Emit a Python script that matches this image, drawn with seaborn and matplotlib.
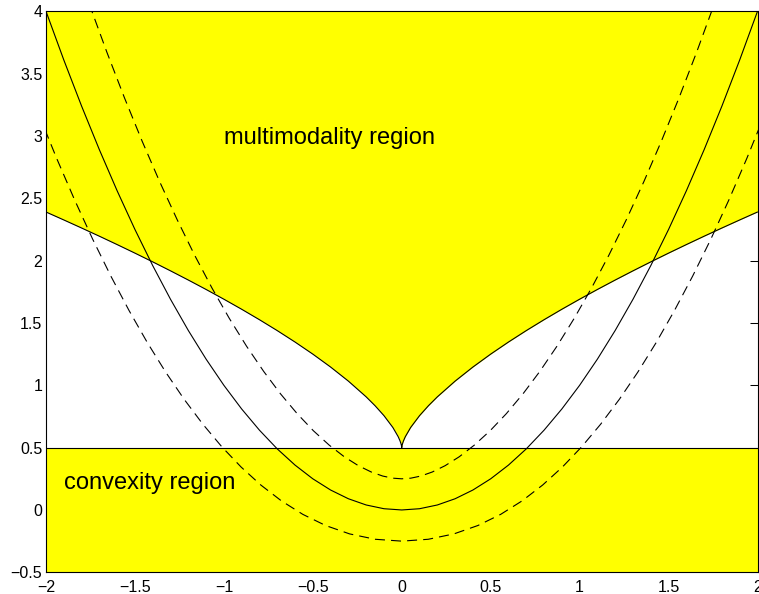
import numpy as np
import pandas as pd
import matplotlib
matplotlib.use("Agg")
import matplotlib.pyplot as plt
import seaborn as sns

# ---- data (right half, x >= 0; the chart is symmetric) ----
# solid curve
parab_x = [0.0, 0.1, 0.2, 0.3, 0.4, 0.5, 0.6, 0.7, 0.8, 0.9, 1.0,
           1.1, 1.2, 1.3, 1.4, 1.5, 1.6, 1.7, 1.8, 1.9, 2.0]
parab_y = [0.0, 0.01, 0.04, 0.09, 0.16, 0.25, 0.36, 0.49, 0.64, 0.81, 1.0,
           1.21, 1.44, 1.69, 1.96, 2.25, 2.56, 2.89, 3.24, 3.61, 4.0]

# boundary of the multimodality region (cusp at x = 0)
bound_x = [0.0, 0.002, 0.005, 0.01, 0.02, 0.05, 0.1, 0.15, 0.2, 0.3, 0.4, 0.5,
           0.6, 0.7, 0.8, 0.9, 1.0, 1.1, 1.2, 1.3, 1.4, 1.5, 1.6, 1.7, 1.8,
           1.9, 2.0]
bound_y = [0.5, 0.5189, 0.5348, 0.5552, 0.5877, 0.6616, 0.7565, 0.8361, 0.9072,
           1.0335, 1.1464, 1.2501, 1.3470, 1.4387, 1.5261, 1.6099, 1.6906,
           1.7687, 1.8444, 1.9181, 1.9900, 2.0602, 2.1287, 2.1959, 2.2617,
           2.3264, 2.3900]

# upper dashed curve
upper_x = [0.0, 0.0510, 0.1071, 0.1714, 0.2438, 0.3232, 0.4079, 0.4966, 0.5880,
           0.6815, 0.7764, 0.8724, 0.9692, 1.0667, 1.1646, 1.2628, 1.3614,
           1.4602, 1.5591, 1.6582, 1.7575]
upper_y = [0.25, 0.2551, 0.2721, 0.3044, 0.3552, 0.4268, 0.5201, 0.6353, 0.7725,
           0.9314, 1.1118, 1.3134, 1.5362, 1.7797, 2.0441, 2.3291, 2.6346,
           2.9605, 3.3069, 3.6736, 4.0606]

# lower dashed curve
lower_x = [0.0, 0.1490, 0.2929, 0.4286, 0.5562, 0.6768, 0.7921, 0.9034, 1.0120,
           1.1185, 1.2236, 1.3276, 1.4308, 1.5333, 1.6354, 1.7372, 1.8386,
           1.9398, 2.0409]
lower_y = [-0.25, -0.2351, -0.1921, -0.1244, -0.0352, 0.0732, 0.1999, 0.3447,
           0.5075, 0.6886, 0.8882, 1.1066, 1.3438, 1.6003, 1.8759, 2.1709,
           2.4854, 2.8195, 3.1731]

convex_top = 0.5
x_range = [-2.0, 2.0]
y_range = [-0.5, 4.0]

x_ticks = [-2, -1.5, -1, -0.5, 0, 0.5, 1, 1.5, 2]
x_labels = ["\u22122", "\u22121.5", "\u22121", "\u22120.5", "0", "0.5", "1", "1.5", "2"]
y_ticks = [-0.5, 0, 0.5, 1, 1.5, 2, 2.5, 3, 3.5, 4]
y_labels = ["\u22120.5", "0", "0.5", "1", "1.5", "2", "2.5", "3", "3.5", "4"]

label_multi = "multimodality region"
label_convex = "convexity region"
label_multi_pos = (-1.0, 2.936)
label_convex_pos = (-1.9, 0.166)


def mirror(xs, ys):
    xs = np.asarray(xs, float)
    ys = np.asarray(ys, float)
    return (np.concatenate([-xs[::-1], xs[1:]]),
            np.concatenate([ys[::-1], ys[1:]]))


sns.set_theme(style="white")
plt.rcParams["font.family"] = ["Liberation Sans", "DejaVu Sans"]
plt.rcParams["axes.unicode_minus"] = True

fig = plt.figure(figsize=(7.59, 5.94), dpi=100)
ax = fig.add_axes([46 / 759, 1 - 572.3 / 594, (757.5 - 46) / 759, (572.3 - 11.3) / 594])
ax.set_facecolor("white")

yellow = "#ffff00"
bx, by = mirror(bound_x, bound_y)
ax.fill_between(bx, by, y_range[1], color=yellow, linewidth=0, zorder=1)
ax.fill_between(x_range, y_range[0], convex_top, color=yellow, linewidth=0, zorder=1)

curves = []
for name, xs, ys in [("parab", parab_x, parab_y), ("bound", bound_x, bound_y),
                     ("upper", upper_x, upper_y), ("lower", lower_x, lower_y)]:
    mx, my = mirror(xs, ys)
    curves.append(pd.DataFrame({"x": mx, "y": my, "curve": name}))
df = pd.concat(curves, ignore_index=True)

lw = 0.8
for name, ls in [("parab", "-"), ("bound", "-"),
                 ("upper", (0, (9.0, 5.5))), ("lower", (0, (9.0, 5.5)))]:
    sub = df[df["curve"] == name]
    sns.lineplot(data=sub, x="x", y="y", sort=False, estimator=None, ax=ax,
                 color="black", linewidth=lw, linestyle=ls, zorder=3)

hl = pd.DataFrame({"x": x_range, "y": [convex_top, convex_top]})
sns.lineplot(data=hl, x="x", y="y", sort=False, estimator=None, ax=ax,
             color="black", linewidth=lw, zorder=3)

ax.set_xlim(*x_range)
ax.set_ylim(*y_range)
ax.set_axisbelow(True)
ax.set_xticks(x_ticks, x_labels)
ax.set_yticks(y_ticks, y_labels)
ax.tick_params(axis="both", direction="in", length=5.5, width=0.75, color="black",
               labelsize=11.5, labelcolor="black", top=True, right=True)
ax.tick_params(axis="x", pad=5.5)
ax.tick_params(axis="y", pad=2.7)
ax.set_xlabel("")
ax.set_ylabel("")
for sp in ax.spines.values():
    sp.set_visible(True)
    sp.set_color("black")
    sp.set_linewidth(0.8)
    sp.set_zorder(4)

ax.text(*label_multi_pos, label_multi, fontsize=17, ha="left", va="baseline",
        color="black", zorder=5)
ax.text(*label_convex_pos, label_convex, fontsize=17, ha="left", va="baseline",
        color="black", zorder=5)

fig.savefig("out.png", dpi=100)
